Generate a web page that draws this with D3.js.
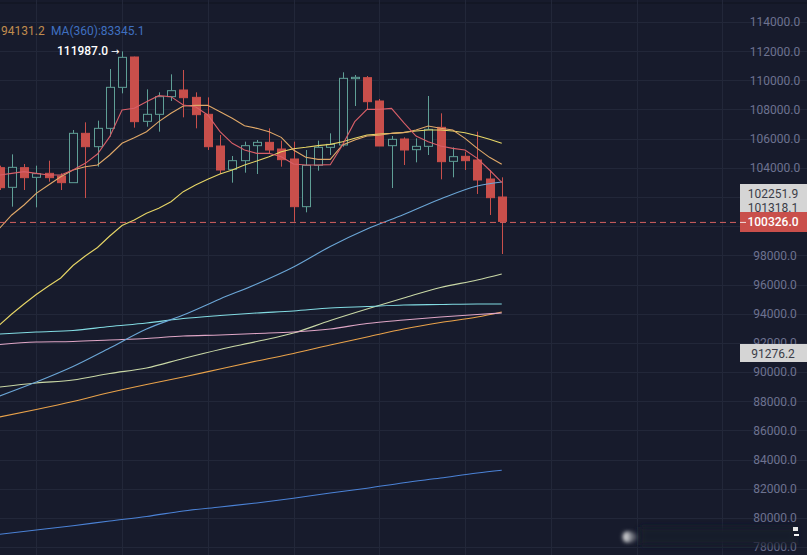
<!DOCTYPE html>
<html><head><meta charset="utf-8">
<style>html,body{margin:0;padding:0;background:#171b2c;overflow:hidden}svg{display:block}text{font-family:Roboto,sans-serif}</style>
<script src="https://cdn.jsdelivr.net/npm/d3@7"></script>
</head><body><svg id="c" width="807" height="555"></svg>
<script>
const opens=[104011,102663,104011,103349,103623,103440,102983,106366,105451,106708,109520,111600,107189,107669,108880,109337,108834,107669,105497,103897,104491,105520,105748,105291,104606,101337,104171,105406,105566,110114,110183,108583,105520,105977,105246,105474,106777,104446,104789,104537,103234,102000];
const highs=[104148,104925,104263,104148,104491,103623,106594,107120,107234,110777,111987,111623,109383,109177,110411,110708,109177,108834,106251,104811,105794,105908,106708,105863,105794,105223,105863,106366,110549,110366,110297,108720,106183,106091,106023,108926,107737,105406,105109,106480,103851,103349];
const lows=[102480,101337,102480,101291,103051,102480,102983,101931,104080,106137,109108,106754,106823,106480,108583,107463,106708,105223,103577,102983,103668,103577,104994,104080,100309,100949,103806,104880,105451,108240,107966,105497,102617,104194,104377,104880,103211,103349,103851,102206,100766,98091];
const closes=[102640,104034,103326,103600,103326,102983,106366,105451,106708,109520,111577,107166,107669,108880,109291,108811,107646,105451,103851,104491,105520,105748,105223,104560,101337,104171,105406,105611,110137,110206,108537,105497,105954,105223,105474,106640,104423,104766,104491,103166,101954,100326];
const maRed=[103508,103623,103737,103623,103508,103508,103851,104308,104948,106137,107966,108080,108537,108948,108880,108308,108194,107623,106480,105680,105223,104994,104994,104766,104263,104194,104194,104217,105566,107166,108011,108011,108080,107097,106183,105794,105497,105337,105223,104651,103851,103006];
const maTan=[99851,100766,101451,102251,102823,103394,103851,104080,104194,104880,105680,106068,106480,107166,107737,108240,108286,108286,107851,107394,106891,106708,106480,106091,105223,104720,104583,104583,105566,105909,106183,106229,106366,106411,106594,106869,106709,106594,106023,105337,104720,104240];
const maYellow=[93224,93977,94663,95314,95897,96446,97303,97954,98537,99326,100046,100423,100880,101223,101680,102366,102823,103211,103577,103851,104194,104469,104766,105109,105314,105406,105520,105611,105794,106023,106251,106320,106366,106434,106526,106594,106594,106526,106411,106206,105954,105680];
const longIdx=[0,3,6,9,12,15,18,21,24,27,30,33,36,39,41];
const maBlue=[88355,89315,90378,91646,92949,93909,95006,96035,97200,98606,99806,100800,101863,102754,103029];
const maTeal=[92606,92744,92846,93120,93360,93669,93875,94047,94184,94389,94492,94595,94629,94663,94663];
const maPink=[91886,92058,92092,92195,92298,92469,92538,92641,92744,92949,93326,93566,93772,93943,94046];
const maSage=[88972,89247,89452,89898,90275,90926,91543,92092,92674,93531,94320,95074,95794,96309,96720];
const maOrange=[86915,87429,87978,88595,89143,89658,90206,90755,91269,91852,92400,92949,93394,93771,94115];
const ma360=[78872,79165,79461,79784,80092,80469,80744,81018,81340,81703,82033,82410,82733,83075,83259];
const yTicks=d3.range(78000,114001,2000);
const hiddenTicks=[100000,102000];
const xGrid=[3,10,17,24,31,38,45,52,59];
const legend=["94131.2","MA(360):83345.1"];
const peakLabel="111987.0";
const peakArrow="→";
const lastPrice=100326.0;
const tagsGrey=["102251.9","101318.1"];
const tagLow="91276.2";

const svg=d3.select("#c");
const W=807,H=555,AX=740;
const bg="#171b2c",up="#5f9f96",down="#c94f4b";
const x=d3.scaleLinear().domain([0,41]).range([-0.5,501.75]);
const y=d3.scaleLinear().domain([78000,114000]).range([547,22]);

svg.append("rect").attr("width",W).attr("height",H).attr("fill",bg);
const defs=svg.append("defs");
defs.append("filter").attr("id","b1").attr("x","-100%").attr("y","-100%").attr("width","300%").attr("height","300%").append("feGaussianBlur").attr("stdDeviation",2.2);
defs.append("filter").attr("id","b2").attr("x","-20%").attr("y","-80%").attr("width","140%").attr("height","260%").append("feGaussianBlur").attr("stdDeviation",3.5);

const gridCol="#222739";
svg.append("line").attr("x1",0).attr("x2",W).attr("y1",3).attr("y2",3).attr("stroke","#11141f");
svg.append("g").selectAll("line").data(yTicks).join("line")
  .attr("x1",0).attr("x2",W).attr("y1",d=>Math.round(y(d))+.5).attr("y2",d=>Math.round(y(d))+.5).attr("stroke",gridCol);
svg.append("g").selectAll("line").data(xGrid).join("line")
  .attr("y1",0).attr("y2",H).attr("x1",d=>Math.round(x(d))+.5).attr("x2",d=>Math.round(x(d))+.5).attr("stroke",gridCol);

const ax=svg.append("g").attr("transform","translate(775,0)").call(d3.axisRight(y).tickValues(yTicks.filter(t=>!hiddenTicks.includes(t))).tickSize(0).tickPadding(0).tickFormat(d3.format(".1f")));
ax.select(".domain").remove();
ax.selectAll("text").attr("text-anchor","middle").attr("x",0).attr("fill","#6d7290").style("font-size","12px").style("font-family","Roboto,sans-serif");

const candles=opens.map((o,i)=>({i,o,h:highs[i],l:lows[i],c:closes[i],rise:closes[i]>=o}));
const bw=8;
const cg=svg.append("g");
candles.forEach(d=>{
  const px=Math.round(x(d.i))+.5,col=d.rise?up:down;
  const t=y(Math.max(d.o,d.c)),b=y(Math.min(d.o,d.c));
  cg.append("line").attr("x1",px).attr("x2",px).attr("y1",y(d.h)).attr("y2",t).attr("stroke",col);
  cg.append("line").attr("x1",px).attr("x2",px).attr("y1",b).attr("y2",y(d.l)).attr("stroke",col);
  cg.append("rect").attr("x",px-bw/2).attr("y",t).attr("width",bw).attr("height",Math.max(1,b-t))
    .attr("fill",d.rise?bg:down).attr("stroke",col);
});

const fullLine=d3.line().x((d,i)=>x(i)).y(d=>y(d));
const longLine=d3.line().curve(d3.curveMonotoneX).x((d,i)=>x(longIdx[i])).y(d=>y(d));
const series=[[ma360,"#4b82d6",longLine],[maOrange,"#e9a24a",longLine],[maSage,"#c9d8a6",longLine],[maPink,"#dfa6c6",longLine],[maTeal,"#82dbe2",longLine],[maBlue,"#6ba6d6",longLine],[maYellow,"#e6d566",fullLine],[maTan,"#e0a868",fullLine],[maRed,"#d85f68",fullLine]];
svg.append("g").selectAll("path").data(series).join("path")
  .attr("fill","none").attr("stroke-width",1.1).attr("stroke",d=>d[1]).attr("d",d=>d[2](d[0]));

svg.append("line").attr("x1",0).attr("x2",AX).attr("y1",y(lastPrice)+1).attr("y2",y(lastPrice)+1)
  .attr("stroke","#d2605f").attr("stroke-dasharray","6 4");

svg.append("text").attr("x",1).attr("y",35).attr("fill","#c08c4e").style("font-size","12px").text(legend[0]);
svg.append("text").attr("x",51).attr("y",35).attr("fill","#3f70c0").style("font-size","12px").text(legend[1]);
svg.append("text").attr("x",57).attr("y",55).attr("fill","#fff").style("font-size","12px").style("font-weight",500).text(peakLabel);
svg.append("text").attr("x",111).attr("y",55).attr("fill","#fff").style("font-size","10px").style("font-family","'DejaVu Sans'").text(peakArrow);

svg.append("rect").attr("x",AX).attr("y",184).attr("width",W-AX).attr("height",28).attr("fill","#d5d5d5");
svg.append("rect").attr("x",AX).attr("y",344).attr("width",W-AX).attr("height",18).attr("fill","#d5d5d5");
svg.append("rect").attr("x",AX).attr("y",212).attr("width",W-AX).attr("height",20).attr("fill",down);
svg.append("line").attr("x1",AX).attr("x2",746).attr("y1",y(lastPrice)+1).attr("y2",y(lastPrice)+1).attr("stroke","#f3dcda");
const tag=(t,py,c,w)=>svg.append("text").attr("x",773).attr("y",py).attr("text-anchor","middle").attr("fill",c).style("font-size","12px").style("font-weight",w).text(t);
tag(tagsGrey[0],198,"#3b3d48",400);
tag(tagsGrey[1],212,"#3b3d48",400);
tag(d3.format(".1f")(lastPrice),226,"#fff",500);
tag(tagLow,357.5,"#3b3d48",400);

svg.append("rect").attr("x",640).attr("y",527).attr("width",156).attr("height",18).attr("fill","#171b2c").attr("filter","url(#b2)");
svg.append("ellipse").attr("cx",627).attr("cy",537).attr("rx",4).attr("ry",5).attr("fill","#f2f2f2").attr("filter","url(#b1)");
svg.append("ellipse").attr("cx",631).attr("cy",537).attr("rx",6).attr("ry",5).attr("fill","#8b8d96").attr("opacity",.6).attr("filter","url(#b1)");
svg.append("rect").attr("x",793).attr("y",527).attr("width",5).attr("height",4).attr("fill","#e8e8e8");
svg.append("rect").attr("x",794).attr("y",534).attr("width",5).attr("height",2).attr("fill","#f4f4f4");
</script></body></html>
